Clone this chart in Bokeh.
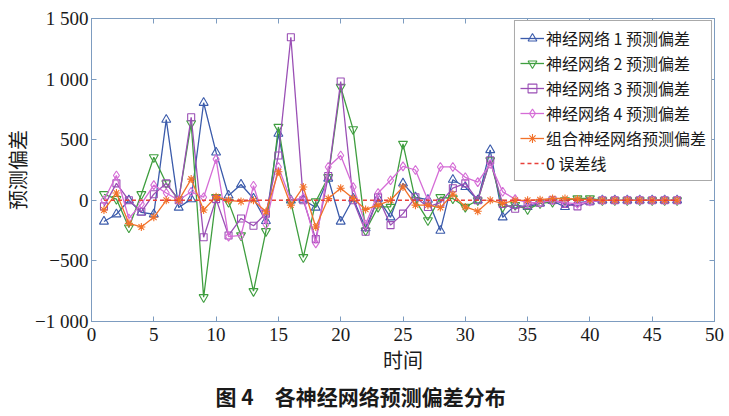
from bokeh.plotting import figure
from bokeh.models import LinearAxis, FixedTicker, Title, Range1d, Legend
from bokeh.embed import file_html
from bokeh.resources import INLINE

# ---- data ----
t = list(range(1, 48))
nn1 = [-175, -115, 0, -100, -115, 665, -60, 10, 805, 395, 40, 130, 15, -170, 550, 0, 5, -60, 180, -175,
       15, -230, 15, -140, 140, 25, 5, -250, 170, 110, 0, 415, -140, -40, -55, -25, -5, -55, -20, -10,
       0, 0, 0, 0, 0, 0, 0]
nn2 = [50, 10, -225, 50, 355, 140, 5, 635, -800, 25, -15, -290, -750, -255, 605, -15, -470, -10, 190, 935,
       585, -250, -55, -55, 465, 0, -165, 25, 15, -55, 0, 330, -55, -40, -75, -25, -15, 0, 15, 15,
       0, 0, 0, 0, 0, 0, 0]
nn3 = [-50, 140, 0, -95, 50, 140, 0, 685, -305, 10, -290, -150, -210, -110, 370, 1345, 0, -320, 200, 980,
       0, -260, 25, -205, -110, 25, -55, -20, 100, 140, 0, 330, -30, -70, -40, -20, 0, -30, -50, -10,
       0, 0, 0, 0, 0, 0, 0]
nn4 = [0, 205, -150, -30, 125, 60, 0, 70, 25, 340, -300, -290, 120, -200, 275, 0, 20, -355, 275, 370,
       110, -200, 60, 165, 280, 250, 0, 275, 275, 190, 150, 300, 70, 10, -20, -20, 0, -20, -30, -10,
       0, 0, 0, 0, 0, 0, 0]
combo = [-80, 60, -190, -220, -140, 0, 0, 175, -80, 30, 0, -10, 0, -95, 235, -40, 110, -220, 15, 100,
         15, -75, -40, 0, 110, -40, -40, -60, 50, -55, -90, 0, -25, 0, 0, 5, 15, 15, 10, 5,
         0, 0, 0, 0, 0, 0, 0]
zero_line = [0] * len(t)

series_labels = ["神经网络 1 预测偏差", "神经网络 2 预测偏差", "神经网络 3 预测偏差",
                 "神经网络 4 预测偏差", "组合神经网络预测偏差", "0 误差线"]
x_ticks = list(range(0, 51, 5))
y_ticks = [-1000, -500, 0, 500, 1000, 1500]
y_tick_labels = {-1000: "\u22121 000", -500: "\u2212500", 0: "0", 500: "500", 1000: "1 000", 1500: "1 500"}
x_label = "时间"
y_label = "预测偏差"
caption = "图 4　各神经网络预测偏差分布"

# ---- figure ----
AX = "#7d9cc0"
CJK = "Noto Sans CJK SC"
SERIF = "serif"

p = figure(width=729, height=416, output_backend="svg", toolbar_location=None,
           x_range=Range1d(0, 50), y_range=Range1d(-1000, 1500),
           min_border_left=90, min_border_right=15, min_border_top=18, min_border_bottom=95,
           x_axis_label=x_label, y_axis_label=y_label)
p.grid.visible = False
p.outline_line_color = AX
p.background_fill_color = "white"
p.border_fill_color = "white"

for ax in (p.xaxis[0], p.yaxis[0]):
    ax.axis_line_color = AX
    ax.major_tick_line_color = AX
    ax.major_tick_in = 5
    ax.major_tick_out = 0
    ax.minor_tick_line_color = None
    ax.major_label_text_font = SERIF
    ax.major_label_text_font_size = "19px"
    ax.major_label_text_color = "#1a1a1a"
    ax.axis_label_text_font = CJK
    ax.axis_label_text_font_size = "20px"
    ax.axis_label_text_font_style = "normal"
    ax.axis_label_text_color = "#1a1a1a"

p.xaxis[0].ticker = FixedTicker(ticks=x_ticks)
p.yaxis[0].ticker = FixedTicker(ticks=y_ticks)
p.yaxis[0].major_label_overrides = y_tick_labels
p.xaxis[0].major_label_standoff = 6
p.xaxis[0].axis_label_standoff = 1
p.yaxis[0].major_label_standoff = 3
p.yaxis[0].axis_label_standoff = 0

top = LinearAxis(ticker=FixedTicker(ticks=x_ticks), major_label_text_color=None,
                 major_label_text_font_size="1px", major_label_standoff=0,
                 axis_line_color=AX, major_tick_line_color=AX, major_tick_in=5, major_tick_out=0,
                 minor_tick_line_color=None)
right = LinearAxis(ticker=FixedTicker(ticks=y_ticks), major_label_text_color=None,
                   major_label_text_font_size="1px", major_label_standoff=0,
                   axis_line_color=AX, major_tick_line_color=AX, major_tick_in=5, major_tick_out=0,
                   minor_tick_line_color=None)
p.add_layout(top, "above")
p.add_layout(right, "right")

colors = ["#3b5bab", "#3f9e3f", "#9a4fb5", "#d56cd6", "#f2722a"]
markers = ["triangle", "inverted_triangle", "square", "diamond", "asterisk"]
sizes = [9, 9, 7, 9, 8]
data = [nn1, nn2, nn3, nn4, combo]

items = []
for ys, c, m, s, lab in zip(data, colors, markers, sizes, series_labels[:5]):
    r1 = p.line(t, ys, line_color=c, line_width=1.3)
    r2 = p.scatter(t, ys, marker=m, size=s, line_color=c, fill_color=None, line_width=1.1)
    items.append((lab, [r1, r2]))

r0 = p.line(t, zero_line, line_color="#e8403a", line_width=1.5, line_dash="4 3")
items.append((series_labels[5], [r0]))

legend = Legend(items=items, location="top_right")
legend.label_text_font = CJK
legend.label_text_font_size = "16px"
legend.label_text_color = "#1a1a1a"
legend.glyph_width = 24
legend.glyph_height = 22
legend.label_height = 22
legend.spacing = 1
legend.padding = 5
legend.margin = 2
legend.label_standoff = 2
legend.border_line_color = "#555555"
legend.border_line_width = 1
legend.background_fill_alpha = 1
p.add_layout(legend)

p.add_layout(Title(text=caption, align="left", offset=124, text_font=CJK, text_font_size="21px",
                   text_font_style="bold", text_color="#1a1a1a", standoff=4), "below")

open("out.html", "w").write(file_html(p, INLINE))
